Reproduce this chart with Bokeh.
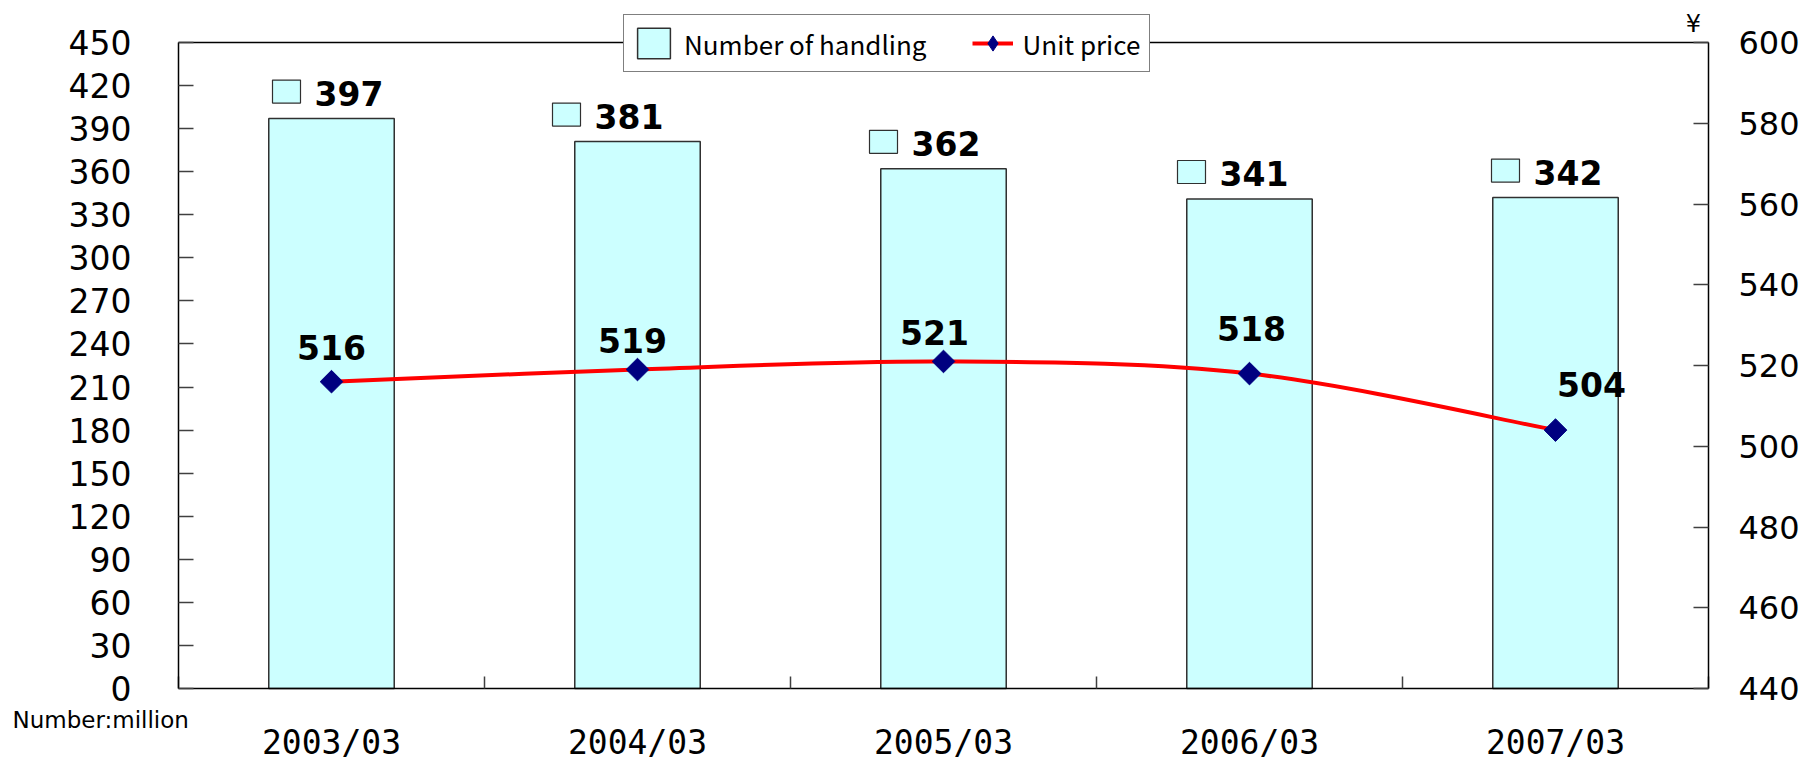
import math
import numpy as np
from bokeh.plotting import figure
from bokeh.models import (Range1d, LinearAxis, FixedTicker, ColumnDataSource,
                          Legend, LegendItem, Label)
from bokeh.embed import file_html
from bokeh.resources import INLINE
from bokeh.core.properties import value

# ---------------- data ----------------
categories = ["2003/03", "2004/03", "2005/03", "2006/03", "2007/03"]
handling = [397, 381, 362, 341, 342]          # Number of handling (million)
unit_price = [516, 519, 521, 518, 504]        # Unit price (yen)
left_ticks = list(range(0, 451, 30))
right_ticks = list(range(440, 601, 20))
left_range = (0, 450)
right_range = (440, 600)

# ---------------- layout / styles ----------------
W, H = 1800, 763
PL, PR, PT, PB = 178, 1708, 42, 688           # plot-box edges in page pixels
NUM = "DejaVu Sans"
bar_lab_dx = [-17, -43, -32, -30, -22]        # px, left edge of bar label vs bar centre
price_lab_dx = [0, -5, -9, 2, 36]             # px, label centre vs marker
price_lab_dy = [-34, -29, -29, -45, -46]      # px, label vs marker

n = len(categories)
pxx = (PR - PL) / n
pyy = (PB - PT) / (left_range[1] - left_range[0])
pyr = (PB - PT) / (right_range[1] - right_range[0])

xs = [i + 0.5 for i in range(n)]

p = figure(width=W, height=H, min_border=0, output_backend="svg", toolbar_location=None,
           x_range=Range1d(-PL / pxx, n + (W - PR) / pxx),
           y_range=Range1d(left_range[0] - (H - PB) / pyy, left_range[1] + PT / pyy))
p.extra_y_ranges = {"price": Range1d(right_range[0] - (H - PB) / pyr,
                                     right_range[1] + PT / pyr)}
p.xgrid.visible = False
p.ygrid.visible = False
p.background_fill_color = "white"
p.border_fill_color = "white"
p.outline_line_color = None

# x axis (bottom of plot box)
xa = p.xaxis[0]
xa.fixed_location = left_range[0]
xa.bounds = (0, n)
xa.ticker = FixedTicker(ticks=xs, minor_ticks=list(range(n + 1)))
xa.major_label_overrides = {x: c for x, c in zip(xs, categories)}
xa.major_tick_in = 0
xa.major_tick_out = 0
xa.minor_tick_in = 12
xa.minor_tick_out = 0
xa.minor_tick_line_color = "#404040"
xa.minor_tick_line_width = 1.5
xa.major_label_standoff = 34
xa.major_label_text_font = "DejaVu Sans Mono"
xa.major_label_text_font_size = "33px"

# left axis
ya = p.yaxis[0]
ya.fixed_location = 0
ya.bounds = left_range
ya.ticker = FixedTicker(ticks=left_ticks)
ya.minor_tick_line_color = None
ya.major_tick_in = 15
ya.major_tick_out = 0
ya.major_label_standoff = 47
ya.major_label_text_font = NUM
ya.major_label_text_font_size = "33px"

# right axis
ra = LinearAxis(y_range_name="price", fixed_location=n, bounds=right_range,
                ticker=FixedTicker(ticks=right_ticks))
p.add_layout(ra, "right")
ra.minor_tick_line_color = None
ra.major_tick_in = 15
ra.major_tick_out = 0
ra.major_label_standoff = 30
ra.major_label_text_font = NUM
ra.major_label_text_font_size = "32px"

# top edge of the plot box
ta = LinearAxis(fixed_location=left_range[1], bounds=(0, n), ticker=FixedTicker(ticks=[]))
p.add_layout(ta, "above")
ta.major_tick_line_color = None
ta.minor_tick_line_color = None
ta.major_label_text_font_size = "0px"

for ax in (xa, ya, ra, ta):
    ax.axis_line_color = "black"
    ax.axis_line_width = 1.5
    ax.major_label_text_color = "black"
for ax in (ya, ra):
    ax.major_tick_line_color = "#404040"
    ax.major_tick_line_width = 1.5
xa.major_tick_line_color = None

# ---------------- bars ----------------
bsrc = ColumnDataSource(dict(
    x=xs, top=handling, lab=[str(v) for v in handling], dx=bar_lab_dx,
    kx=[x + (d - 28) / pxx for x, d in zip(xs, bar_lab_dx)],
    ky=[v + 27 / pyy for v in handling],
))
bars = p.vbar(x="x", top="top", width=0.41, source=bsrc,
              fill_color="#CCFFFF", line_color="#303030", line_width=1.5)
p.rect(x="kx", y="ky", width=28, height=23, width_units="screen", height_units="screen",
       source=bsrc, fill_color="#CCFFFF", line_color="#303030", line_width=1.2)
p.text(x="x", y="top", text="lab", x_offset="dx", y_offset=-25, source=bsrc,
       text_align="left", text_baseline="alphabetic", text_font=value(NUM),
       text_font_style="bold", text_font_size="33px", text_color="black")

# ---------------- smoothed price line (Bezier through the data points) ----------------
m = len(unit_price)
seg = dict(x0=[], y0=[], x1=[], y1=[], cx0=[], cy0=[], cx1=[], cy1=[])
for i in range(m - 1):
    a = max(i - 1, 0)
    b = min(i + 2, m - 1)
    seg["x0"].append(xs[i]); seg["y0"].append(unit_price[i])
    seg["x1"].append(xs[i + 1]); seg["y1"].append(unit_price[i + 1])
    seg["cx0"].append(xs[i] + (xs[i + 1] - xs[a]) / 6)
    seg["cy0"].append(unit_price[i] + (unit_price[i + 1] - unit_price[a]) / 6)
    seg["cx1"].append(xs[i + 1] - (xs[b] - xs[i]) / 6)
    seg["cy1"].append(unit_price[i + 1] - (unit_price[b] - unit_price[i]) / 6)
bez = p.bezier(source=ColumnDataSource(seg), x0="x0", y0="y0", x1="x1", y1="y1",
               cx0="cx0", cy0="cy0", cx1="cx1", cy1="cy1",
               line_color="#FF0000", line_width=4, y_range_name="price")

psrc = ColumnDataSource(dict(x=xs, y=unit_price, lab=[str(v) for v in unit_price],
                             dx=price_lab_dx, dy=price_lab_dy))
marks = p.scatter(x="x", y="y", source=psrc, marker="square", angle=math.pi / 4, size=16,
                  fill_color="#000080", line_color="#000080", y_range_name="price")
# legend swatch for the price markers (diamond shape; its one point is NaN, so not drawn)
mark_key = p.scatter(x=np.array([np.nan]), y=np.array([np.nan]), marker="diamond", size=16,
                     fill_color="#000080", line_color="#000080", y_range_name="price")
p.text(x="x", y="y", text="lab", x_offset="dx", y_offset="dy", source=psrc,
       y_range_name="price", text_align="center", text_baseline="alphabetic",
       text_font=value(NUM), text_font_style="bold", text_font_size="33px", text_color="black")

# ---------------- legend ----------------
legend = Legend(items=[LegendItem(label="Number of handling", renderers=[bars]),
                       LegendItem(label="Unit price", renderers=[bez, mark_key])],
                orientation="horizontal", location=(623, H - 72),
                glyph_width=41, glyph_height=38, label_height=38, label_standoff=10,
                spacing=45, padding=9, margin=0,
                label_text_font="Noto Sans CJK JP", label_text_font_size="26px",
                label_text_color="black",
                border_line_color="black", border_line_width=1.5,
                background_fill_color="white", background_fill_alpha=1.0)
p.add_layout(legend)

# ---------------- extra texts ----------------
p.add_layout(Label(x=PR - 15, y=H - (PT - 19), x_units="screen", y_units="screen", text="¥",
                   text_align="center", text_baseline="alphabetic",
                   text_font=NUM, text_font_size="24px", text_color="black"))
p.add_layout(Label(x=12, y=H - (PB + 31), x_units="screen", y_units="screen",
                   text="Number:million", text_align="left", text_baseline="alphabetic",
                   text_font=NUM, text_font_size="23px", text_color="black"))

open("out.html", "w").write(file_html(p, INLINE))
